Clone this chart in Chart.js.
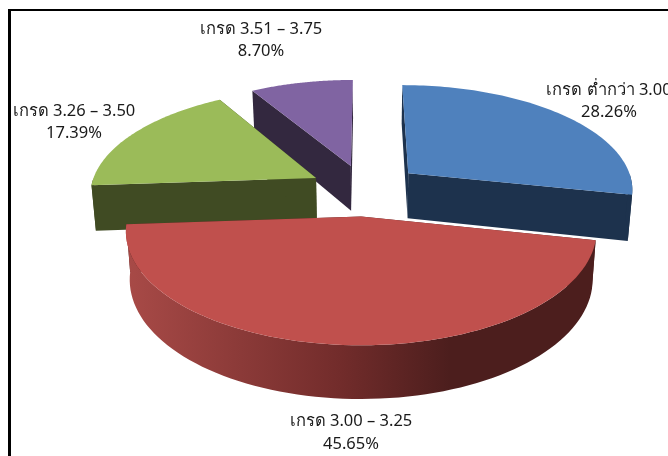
<!DOCTYPE html>
<html>
<head>
<meta charset="utf-8">
<style>
  html, body { margin: 0; padding: 0; background: #fff; overflow: hidden; }
  #wrap { position: relative; width: 668px; height: 456px; }
  #frame { position: absolute; left: 8px; top: 9px; width: 668px; height: 460px;
           border-left: 3px solid #000; border-top: 2px solid #000; pointer-events: none; }
</style>
<script src="https://cdn.jsdelivr.net/npm/chart.js@4"></script>
</head>
<body>
<div id="wrap">
  <canvas id="pieChart" width="668" height="456"></canvas>
  <div id="frame"></div>
</div>
<script>
// data
const categories = ['เกรด ต่ำกว่า 3.00', 'เกรด 3.00 – 3.25', 'เกรด 3.26 – 3.50', 'เกรด 3.51 – 3.75'];
const percentages = [28.26, 45.65, 17.39, 8.70];
const percentLabels = ['28.26%', '45.65%', '17.39%', '8.70%'];
const topColors = ['#4f81bd', '#c0504d', '#9bbb59', '#8064a2'];
const wallColors = ['#1d324d', '#4c1e1d', '#404b23', '#33283f'];
const labelSpots = [[609, 90, 609, 112], [351, 421, 351, 444], [74, 111, 74, 133], [261, 29, 261, 51]];

const TILT = 0.475, PERSP = 0.0006, DEPTH = 46;

// pie plane -> screen, with a bit of perspective so the front looks bigger
function project(cx, cy, dx, dy, z) {
  const s = 1 + PERSP * dy;
  const shrink = 1 - 0.00035 * z;
  return [cx + dx * s * shrink, cy + dy * TILT * s + z * s];
}

function slicePoints(arc, z) {
  const { x, y, startAngle, endAngle, outerRadius } = arc.getProps(['x', 'y', 'startAngle', 'endAngle', 'outerRadius']);
  const mid = (startAngle + endAngle) / 2;
  const off = arc.options.offset;
  const ox = Math.cos(mid) * off, oy = Math.sin(mid) * off;
  const rim = [];
  for (let i = 0; i <= 80; i++) {
    const a = startAngle + (endAngle - startAngle) * i / 80;
    rim.push({ a, p: project(x, y, ox + Math.cos(a) * outerRadius, oy + Math.sin(a) * outerRadius, z) });
  }
  return { apex: project(x, y, ox, oy, z), rim };
}

function fillPath(ctx, pts, color) {
  ctx.beginPath();
  pts.forEach((p, i) => i ? ctx.lineTo(p[0], p[1]) : ctx.moveTo(p[0], p[1]));
  ctx.closePath();
  ctx.fillStyle = color;
  ctx.fill();
}

const pie3d = {
  id: 'pie3d',
  beforeDatasetsDraw(chart) {
    const ctx = chart.ctx;
    const arcs = chart.getDatasetMeta(0).data;
    // back slices first, the big front one last
    [3, 2, 0, 1].forEach(i => {
      const arc = arcs[i];
      const top = slicePoints(arc, 0);
      const low = slicePoints(arc, DEPTH);
      const n = top.rim.length - 1;
      fillPath(ctx, [top.apex, top.rim[0].p, low.rim[0].p, low.apex], wallColors[i]);
      fillPath(ctx, [top.apex, top.rim[n].p, low.rim[n].p, low.apex], wallColors[i]);

      // outer wall, only the part turned to the viewer
      const front = [];
      for (let k = 0; k <= n; k++) if (Math.sin(top.rim[k].a) > 0) front.push(k);
      if (front.length > 1) {
        const upper = front.map(k => top.rim[k].p);
        const lower = front.map(k => low.rim[k].p).reverse();
        const grad = ctx.createLinearGradient(127, 0, 450, 0);
        if (i === 1) {
          grad.addColorStop(0, '#a84a47');
          grad.addColorStop(0.66, '#722c2b');
          grad.addColorStop(1, wallColors[1]);
        }
        fillPath(ctx, upper.concat(lower), i === 1 ? grad : wallColors[i]);
      }
      fillPath(ctx, [top.apex].concat(top.rim.map(r => r.p)), arc.options.backgroundColor);
    });

    // labels
    ctx.fillStyle = '#1a1a1a';
    ctx.font = '16.5px "Noto Sans", "DejaVu Sans", sans-serif';
    ctx.textAlign = 'center';
    ctx.textBaseline = 'middle';
    categories.forEach((c, i) => {
      const s = labelSpots[i];
      ctx.fillText(c, s[0], s[1]);
      ctx.fillText(percentLabels[i], s[2], s[3]);
    });
    return false; // slices are painted above, skip the flat ones
  }
};

new Chart(document.getElementById('pieChart').getContext('2d'), {
  type: 'pie',
  data: {
    labels: categories,
    datasets: [{
      data: percentages,
      backgroundColor: topColors,
      borderWidth: 0,
      offset: [57, 54, 56, 54]
    }]
  },
  options: {
    responsive: false,
    animation: false,
    radius: 226,
    layout: { padding: { left: 62, bottom: 76 } },
    plugins: { legend: { display: false }, tooltip: { enabled: false } }
  },
  plugins: [pie3d]
});
</script>
</body>
</html>
